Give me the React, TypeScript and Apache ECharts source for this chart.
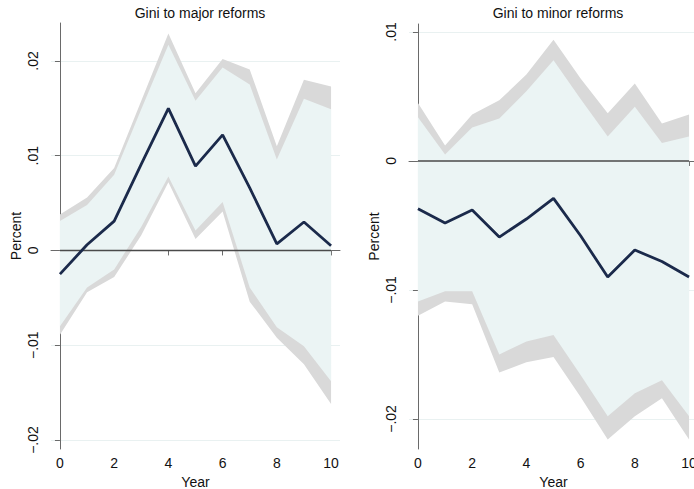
import { useEffect, useRef } from "react";
import * as echarts from "echarts";

// Horizon (years after reform)
const years = [0, 1, 2, 3, 4, 5, 6, 7, 8, 9, 10];
const yearTicks = [0, 2, 4, 6, 8, 10];

// Gini response to major reforms: point estimate and confidence bounds
const majorEst = [-0.0025, 0.0006, 0.0031, 0.0091, 0.015, 0.0089, 0.0122, 0.0066, 0.0007, 0.003, 0.0005];
const majorHi95 = [0.0038, 0.0056, 0.0087, 0.0158, 0.0229, 0.0166, 0.0202, 0.0191, 0.011, 0.018, 0.0173];
const majorHi90 = [0.0031, 0.0048, 0.008, 0.0149, 0.0217, 0.0158, 0.0193, 0.0175, 0.0096, 0.016, 0.0149];
const majorLo90 = [-0.008, -0.0039, -0.002, 0.0025, 0.0078, 0.0021, 0.0051, -0.0039, -0.0081, -0.0101, -0.0138];
const majorLo95 = [-0.0089, -0.0044, -0.0028, 0.0016, 0.0072, 0.0012, 0.0041, -0.0054, -0.0092, -0.012, -0.0162];
const majorTicks = [-0.02, -0.01, 0, 0.01, 0.02];

// Gini response to minor reforms
const minorEst = [-0.0037, -0.0048, -0.0038, -0.0059, -0.0045, -0.0029, -0.0058, -0.009, -0.0069, -0.0078, -0.009];
const minorHi95 = [0.0045, 0.0012, 0.0036, 0.0047, 0.0067, 0.0094, 0.0064, 0.0037, 0.006, 0.0029, 0.0036];
const minorHi90 = [0.0034, 0.0005, 0.0026, 0.0033, 0.0054, 0.0078, 0.0048, 0.0019, 0.0042, 0.0014, 0.0019];
const minorLo90 = [-0.0109, -0.0101, -0.0101, -0.015, -0.014, -0.0135, -0.0166, -0.0198, -0.018, -0.017, -0.0198];
const minorLo95 = [-0.012, -0.0109, -0.0111, -0.0164, -0.0156, -0.0152, -0.0183, -0.0216, -0.0198, -0.0184, -0.0216];
const minorTicks = [-0.02, -0.01, 0, 0.01];

const zeroLine = [[0, 0], [10, 0]];

const FONT = "Liberation Sans, Arial, Helvetica, sans-serif";
const TEXT = "#111111";
const AXIS = "#6a6a6a";
const GRID_LINE = "#e9f1f1";
const INNER_FILL = "#ebf4f4";
const OUTER_FILL = "#d9d9d9";
const NAVY = "#1b2a4b";

const fmtPct = (v: number) => {
  if (Math.abs(v) < 1e-12) return "0";
  const s = Math.abs(v).toFixed(2).replace(/^0/, "");
  return (v < 0 ? "\u2212" : "") + s;
};

function band(idx: number, upper: number[], lower: number[], color: string, z: number) {
  return {
    type: "custom",
    xAxisIndex: idx,
    yAxisIndex: idx,
    silent: true,
    z,
    data: [[0, 0]],
    renderItem: (_params: any, api: any) => {
      const pts: number[][] = [];
      years.forEach((x, i) => pts.push(api.coord([x, upper[i]])));
      for (let i = years.length - 1; i >= 0; i--) pts.push(api.coord([years[i], lower[i]]));
      return { type: "polygon", shape: { points: pts }, style: { fill: color, stroke: null } };
    },
  };
}

function xAxis(idx: number) {
  return {
    type: "value",
    gridIndex: idx,
    min: -0.33,
    max: 10.33,
    axisLine: { show: true, lineStyle: { color: AXIS, width: 1 } },
    axisTick: { show: true, length: 5, customValues: yearTicks, lineStyle: { color: AXIS } },
    axisLabel: {
      customValues: yearTicks,
      fontSize: 14,
      fontFamily: FONT,
      color: TEXT,
      margin: 7,
    },
    splitLine: { show: false },
    name: "Year",
    nameLocation: "middle",
    nameGap: 21,
    nameTextStyle: { fontSize: 14, fontFamily: FONT, color: TEXT },
  };
}

function yAxis(idx: number, min: number, max: number, ticks: number[]) {
  return {
    type: "value",
    gridIndex: idx,
    min,
    max,
    axisLine: { show: true, lineStyle: { color: AXIS, width: 1 } },
    axisTick: { show: true, length: 5, customValues: ticks, lineStyle: { color: AXIS } },
    axisLabel: {
      customValues: ticks,
      rotate: 90,
      fontSize: 14,
      fontFamily: FONT,
      color: TEXT,
      margin: 11,
      formatter: fmtPct,
    },
    splitLine: { show: true, lineStyle: { color: GRID_LINE, width: 1 } },
    name: "Percent",
    nameLocation: "middle",
    nameRotate: 90,
    nameGap: 28,
    nameTextStyle: { fontSize: 14, fontFamily: FONT, color: TEXT },
  };
}

function panelSeries(idx: number, est: number[], hi95: number[], hi90: number[], lo90: number[], lo95: number[]) {
  return [
    band(idx, hi95, lo95, OUTER_FILL, 1),
    band(idx, hi90, lo90, INNER_FILL, 2),
    {
      type: "line",
      xAxisIndex: idx,
      yAxisIndex: idx,
      data: zeroLine,
      symbol: "none",
      silent: true,
      z: 3,
      lineStyle: { color: "#4a4a4a", width: 1.5 },
    },
    {
      type: "line",
      xAxisIndex: idx,
      yAxisIndex: idx,
      data: years.map((x, i) => [x, est[i]]),
      symbol: "none",
      silent: true,
      z: 4,
      lineStyle: { color: NAVY, width: 2.8 },
    },
  ];
}

export default function App() {
  const ref = useRef<HTMLDivElement>(null);

  useEffect(() => {
    if (!ref.current) return;
    const chart = echarts.init(ref.current, null, { renderer: "svg" });
    chart.setOption({
      animation: false,
      backgroundColor: "#ffffff",
      textStyle: { fontFamily: FONT },
      title: [
        {
          text: "Gini to major reforms",
          left: 195,
          top: 1,
          textAlign: "center",
          textStyle: { fontSize: 14, fontWeight: "normal", fontFamily: FONT, color: TEXT },
        },
        {
          text: "Gini to minor reforms",
          left: 553,
          top: 1,
          textAlign: "center",
          textStyle: { fontSize: 14, fontWeight: "normal", fontFamily: FONT, color: TEXT },
        },
      ],
      grid: [
        { left: 51, top: 23, width: 289, height: 426, outerBoundsMode: "none", containLabel: false },
        { left: 409, top: 24, width: 289, height: 425, outerBoundsMode: "none", containLabel: false },
      ],
      xAxis: [xAxis(0), xAxis(1)],
      yAxis: [yAxis(0, -0.02095, 0.024, majorTicks), yAxis(1, -0.02233, 0.01062, minorTicks)],
      series: [
        ...panelSeries(0, majorEst, majorHi95, majorHi90, majorLo90, majorLo95),
        ...panelSeries(1, minorEst, minorHi95, minorHi90, minorLo90, minorLo95),
      ],
    });
    return () => chart.dispose();
  }, []);

  return (
    <div
      ref={ref}
      style={{ position: "fixed", left: 0, top: 0, width: 694, height: 489, background: "#fff" }}
    />
  );
}
